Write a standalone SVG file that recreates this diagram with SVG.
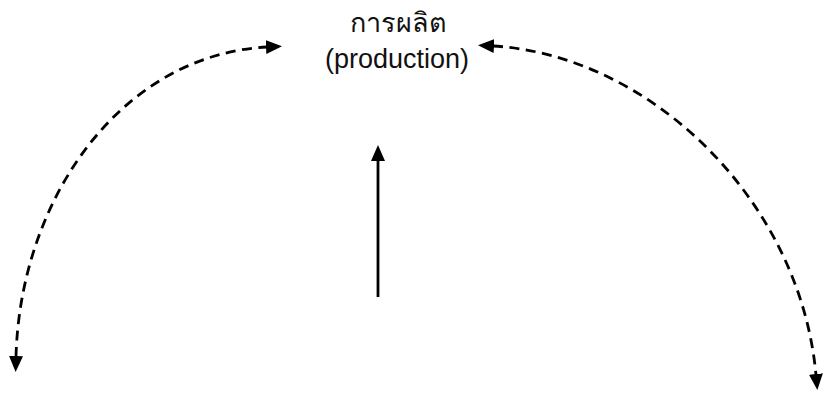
<svg xmlns="http://www.w3.org/2000/svg" width="825" height="394" viewBox="0 0 825 394">
  <style>
    .label { font-family: "Liberation Sans", "Noto Sans", "DejaVu Sans", sans-serif; font-size: 27px; fill: #111; text-anchor: middle; }
    .thai { font-weight: 200; }
    .dash { fill: none; stroke: #000; stroke-width: 2.8; stroke-dasharray: 10 6.5; }
    .solid { fill: none; stroke: #000; stroke-width: 2.8; }
  </style>
  <defs>
    <marker id="head" viewBox="0 0 16 14" refX="1" refY="7" markerWidth="16" markerHeight="14" markerUnits="userSpaceOnUse" orient="auto-start-reverse">
      <path d="M0,0 L16,7 L0,14 Z" fill="#000"/>
    </marker>
  </defs>

  <g id="production">
    <text class="label thai" x="398" y="32">การผลิต</text>
    <text class="label" x="397" y="68">(production)</text>
  </g>

  <g id="connectors">
    <!-- left arc: lower left <-> production -->
    <path class="dash" d="M16,357 C20,200 120,55 267,47" marker-start="url(#head)" marker-end="url(#head)"/>
    <!-- right arc: production <-> lower right -->
    <path class="dash" d="M493,46 C650,55 800,200 816,375" marker-start="url(#head)" marker-end="url(#head)"/>
    <!-- vertical arrow up toward production -->
    <path class="solid" d="M378,297 L378,160" marker-end="url(#head)"/>
  </g>
</svg>
